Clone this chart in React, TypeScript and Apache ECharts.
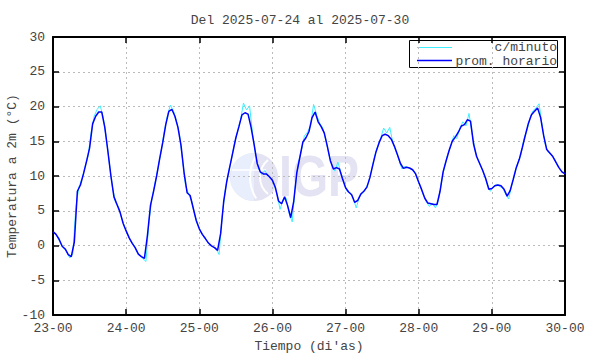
import React, { useEffect, useRef } from 'react';
import * as echarts from 'echarts';

const TITLE = 'Del 2025-07-24 al 2025-07-30';
const Y_NAME = 'Temperatura a 2m (°C)';
const X_NAME = "Tiempo (di'as)";
const START_DAY = 23;
const HOURS_SPAN = 168;
const Y_MIN = -10;
const Y_MAX = 30;
const SERIES_MINUTE = 'c/minuto';
const SERIES_HOURLY = 'prom. horario';
const WATERMARK = 'IGP';

// hourly averages, one per hour from 23-00
const hourlyTemps = [
  2.0, 1.6, 0.9, -0.1, -0.5, -1.3, -1.6, 0.5, 7.8, 8.7,
  10.3, 12.1, 14.0, 17.5, 18.6, 19.2, 19.2, 17.0, 13.6, 10.0,
  7.0, 5.9, 4.8, 3.2, 2.1, 1.1, 0.3, -0.35, -1.25, -1.6,
  -1.85, 1.5, 5.8, 7.8, 10.0, 12.5, 14.8, 17.4, 19.3, 19.6,
  18.6, 17.0, 14.4, 10.5, 7.6, 7.2, 5.4, 3.6, 2.4, 1.6,
  1.0, 0.35, -0.05, -0.3, -0.7, 1.7, 6.3, 9.2, 11.3, 13.4,
  15.5, 17.1, 18.8, 19.1, 18.9, 17.0, 14.5, 11.8, 10.6, 10.3,
  10.3, 9.9, 9.4, 8.3, 6.4, 6.0, 7.0, 5.7, 4.0, 6.4,
  10.5, 12.7, 14.9, 15.5, 16.4, 18.4, 19.2, 17.8, 17.1, 16.2,
  14.3, 12.2, 11.0, 11.2, 11.0, 9.6, 8.3, 7.7, 7.3, 6.2,
  6.5, 7.4, 7.8, 8.4, 9.8, 11.7, 13.5, 14.8, 15.8, 16.0,
  15.8, 15.3, 14.3, 13.1, 11.8, 11.1, 11.25, 11.15, 10.9, 10.3,
  9.1, 8.0, 6.8, 6.1, 6.0, 5.9, 5.9, 7.8, 10.6, 12.2,
  13.7, 15.0, 15.6, 16.3, 17.2, 17.4, 18.1, 17.9, 14.6, 12.8,
  11.8, 10.8, 9.6, 8.1, 8.2, 8.6, 8.7, 8.6, 8.1, 7.1,
  7.9, 9.5, 11.2, 12.4, 14.1, 15.9, 17.6, 18.8, 19.3, 19.8,
  18.4, 15.8, 13.8, 13.3, 12.8, 12.0, 11.2, 10.6, 10.3,
];

// per-minute record sampled at the half hours (h + 0.5)
const minuteTemps = [
  1.8, 1.2, 0.3, -0.4, -0.9, -1.8, -1.2, 5.5, 8.4, 9.6,
  11.3, 12.9, 16.2, 18.6, 19.6, 20.1, 18.4, 15.4, 11.8, 8.4,
  6.2, 5.5, 4.0, 2.6, 1.6, 0.6, 0.1, -0.9, -1.4, -1.9,
  -2.3, 3.6, 6.9, 9.0, 11.2, 13.6, 16.4, 18.6, 20.2, 19.4,
  17.9, 16.0, 12.4, 8.6, 7.4, 6.4, 4.4, 3.0, 2.0, 1.2,
  0.7, 0.1, -0.2, -0.4, -1.3, 4.2, 7.9, 10.4, 12.3, 14.6,
  16.3, 18.0, 20.5, 19.5, 20.1, 16.0, 13.0, 11.0, 10.2, 10.8,
  10.0, 9.7, 8.9, 7.4, 5.2, 6.6, 6.8, 4.6, 3.4, 8.6,
  11.8, 13.7, 15.8, 16.3, 17.2, 20.3, 18.8, 17.6, 16.9, 15.3,
  13.2, 11.6, 10.7, 12.0, 10.4, 9.0, 7.8, 7.6, 6.8, 5.4,
  7.0, 7.5, 8.1, 9.0, 10.8, 12.8, 14.2, 15.4, 16.9, 16.2,
  17.0, 14.8, 13.6, 12.4, 11.0, 11.4, 11.2, 11.0, 10.7, 9.6,
  8.6, 7.3, 6.3, 5.6, 6.1, 5.4, 6.6, 9.2, 11.4, 13.1,
  14.3, 15.8, 15.4, 16.9, 17.8, 17.2, 19.0, 16.2, 13.6, 12.3,
  11.3, 10.2, 8.8, 7.8, 8.5, 8.8, 8.5, 8.3, 7.4, 6.7,
  8.6, 10.3, 11.9, 13.0, 15.3, 16.5, 18.3, 19.4, 19.8, 20.4,
  17.2, 14.6, 13.4, 13.1, 12.5, 11.5, 10.9, 10.4,
];

const MONO = 'Liberation Mono';
const FONT_SIZE = 13;
const TEXT_COLOR = '#444';
const CYAN = '#3ef0ff';
const BLUE = '#0000ff';

const App: React.FC = () => {
  const ref = useRef<HTMLDivElement>(null);

  useEffect(() => {
    if (!ref.current) return;
    const chart = echarts.init(ref.current, undefined, { renderer: 'svg' });

    const frameLine = { show: true, onZero: false, lineStyle: { color: '#000', width: 2 } };
    const tickStyle = { inside: true, length: 6, lineStyle: { color: '#000', width: 1.5 } };
    const dotted = { show: true, lineStyle: { color: '#bbbbbb', width: 1, type: [2, 3] as number[] } };
    const labelStyle = { fontFamily: MONO, fontSize: FONT_SIZE, color: TEXT_COLOR };

    const dayLabel = (v: number) => `${START_DAY + Math.round(v / 24)}-00`;

    const option: any = {
      animation: false,
      backgroundColor: '#fff',
      title: {
        text: TITLE,
        left: 295,
        textAlign: 'center',
        top: 9,
        textStyle: { fontFamily: MONO, fontSize: FONT_SIZE, fontWeight: 'normal', color: TEXT_COLOR },
      },
      grid: {
        left: 53,
        right: 25,
        top: 37,
        bottom: 39,
        containLabel: false,
        outerBoundsMode: 'none',
      },
      xAxis: [
        {
          type: 'value',
          position: 'bottom',
          min: 0,
          max: HOURS_SPAN,
          interval: 24,
          axisLine: frameLine,
          axisTick: tickStyle,
          splitLine: dotted,
          axisLabel: { ...labelStyle, margin: 7, formatter: dayLabel },
          name: X_NAME,
          nameLocation: 'middle',
          nameGap: 25,
          nameMoveOverlap: false,
          nameTextStyle: labelStyle,
        },
        {
          type: 'value',
          position: 'top',
          min: 0,
          max: HOURS_SPAN,
          interval: 24,
          axisLine: frameLine,
          axisTick: tickStyle,
          splitLine: { show: false },
          axisLabel: { show: false },
        },
      ],
      yAxis: [
        {
          type: 'value',
          position: 'left',
          min: Y_MIN,
          max: Y_MAX,
          interval: 5,
          axisLine: frameLine,
          axisTick: tickStyle,
          splitLine: dotted,
          axisLabel: { ...labelStyle, margin: 8 },
          name: Y_NAME,
          nameLocation: 'middle',
          nameGap: 34,
          nameMoveOverlap: false,
          nameTextStyle: labelStyle,
        },
        {
          type: 'value',
          position: 'right',
          min: Y_MIN,
          max: Y_MAX,
          interval: 5,
          axisLine: frameLine,
          axisTick: tickStyle,
          splitLine: { show: false },
          axisLabel: { show: false },
        },
      ],
      graphic: [
        {
          type: 'group',
          z: 1,
          silent: true,
          children: [
            { type: 'circle', shape: { cx: 254, cy: 177, r: 24 }, style: { fill: '#e3e3f3' } },
            {
              type: 'sector',
              shape: { cx: 254, cy: 177, r: 24, startAngle: Math.PI / 2, endAngle: Math.PI * 1.5 },
              style: { fill: '#e8eefb' },
            },
            {
              type: 'arc',
              shape: { cx: 282, cy: 177, r: 22, startAngle: Math.PI * 0.72, endAngle: Math.PI * 1.28 },
              style: { stroke: '#ffffff', lineWidth: 2, fill: 'none' },
            },
            {
              type: 'arc',
              shape: { cx: 290, cy: 177, r: 40, startAngle: Math.PI * 0.82, endAngle: Math.PI * 1.18 },
              style: { stroke: '#ffffff', lineWidth: 2, fill: 'none' },
            },
            {
              type: 'line',
              shape: { x1: 232, y1: 170, x2: 266, y2: 170 },
              style: { stroke: '#ffffff', lineWidth: 1.5 },
            },
            {
              type: 'text',
              x: 279,
              y: 176,
              scaleX: 0.8,
              style: {
                text: WATERMARK,
                font: 'bold 58px "Liberation Sans"',
                fill: '#e3e3f3',
                textAlign: 'left',
                textVerticalAlign: 'middle',
              },
            },
          ],
        },
        {
          type: 'group',
          z: 10,
          children: [
            {
              type: 'rect',
              shape: { x: 409.5, y: 40.5, width: 148, height: 27 },
              style: { fill: '#fff', stroke: '#000', lineWidth: 1 },
            },
            {
              type: 'line',
              shape: { x1: 417, y1: 47.5, x2: 452, y2: 47.5 },
              style: { stroke: CYAN, lineWidth: 1 },
            },
            {
              type: 'line',
              shape: { x1: 417, y1: 60.5, x2: 452, y2: 60.5 },
              style: { stroke: BLUE, lineWidth: 1.5 },
            },
            {
              type: 'text',
              x: 557,
              y: 47.5,
              style: { text: SERIES_MINUTE, font: `${FONT_SIZE}px "${MONO}"`, fill: TEXT_COLOR, textAlign: 'right', textVerticalAlign: 'middle' },
            },
            {
              type: 'text',
              x: 557,
              y: 61,
              style: { text: SERIES_HOURLY, font: `${FONT_SIZE}px "${MONO}"`, fill: TEXT_COLOR, textAlign: 'right', textVerticalAlign: 'middle' },
            },
          ],
        },
      ],
      series: [
        {
          name: SERIES_MINUTE,
          type: 'line',
          xAxisIndex: 0,
          yAxisIndex: 0,
          showSymbol: false,
          symbol: 'none',
          data: minuteTemps.map((v, i) => [i + 0.5, v]),
          lineStyle: { color: CYAN, width: 1 },
          z: 2,
        },
        {
          name: SERIES_HOURLY,
          type: 'line',
          xAxisIndex: 0,
          yAxisIndex: 0,
          showSymbol: false,
          symbol: 'none',
          data: hourlyTemps.map((v, i) => [i, v]),
          lineStyle: { color: BLUE, width: 1.5 },
          z: 3,
        },
      ],
    };

    chart.setOption(option);
    return () => chart.dispose();
  }, []);

  return (
    <div
      ref={ref}
      style={{ position: 'fixed', left: 0, top: 0, width: 590, height: 354, background: '#fff' }}
    />
  );
};

export default App;
